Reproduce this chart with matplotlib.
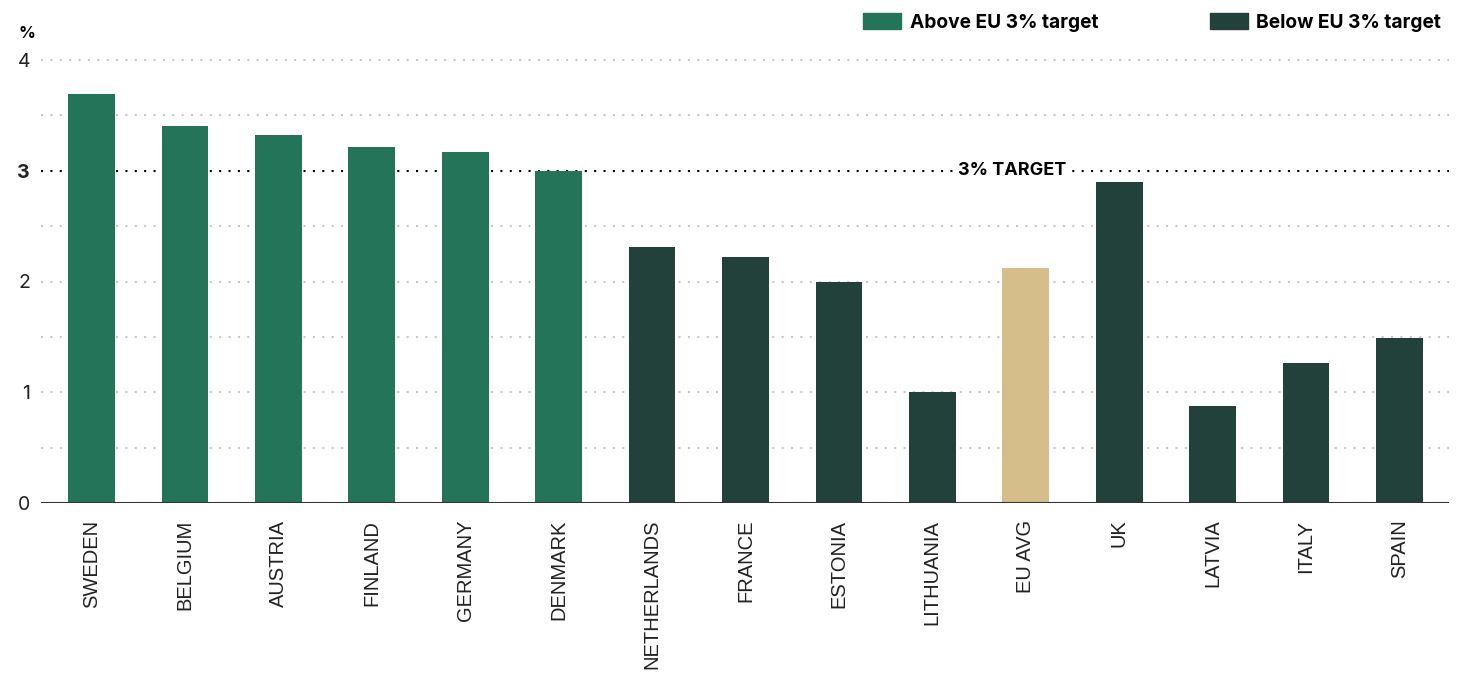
#!/usr/bin/env python3
"""R&D spending as share of GDP vs the EU 3% target."""
import matplotlib.pyplot as plt
import matplotlib.transforms as mtransforms
from matplotlib.patches import Patch

countries = ['SWEDEN', 'BELGIUM', 'AUSTRIA', 'FINLAND', 'GERMANY', 'DENMARK',
             'NETHERLANDS', 'FRANCE', 'ESTONIA', 'LITHUANIA', 'EU AVG', 'UK',
             'LATVIA', 'ITALY', 'SPAIN']
values = [3.69, 3.40, 3.32, 3.21, 3.17, 3.00, 2.31, 2.22, 2.00, 1.00, 2.12,
          2.90, 0.88, 1.26, 1.49]
groups = ['above'] * 6 + ['below'] * 4 + ['avg'] + ['below'] * 4
y_ticks = [0, 1, 2, 3, 4]
grid_levels = [0.5, 1, 1.5, 2, 2.5, 3.5, 4]
target = 3

colors = {'above': '#24745a', 'below': '#22413a', 'avg': '#d5be8a'}
main_font = ['Inter', 'DejaVu Sans']
label_font = ['Liberation Sans', 'DejaVu Sans']

fig = plt.figure(figsize=(14.7, 6.74), dpi=100)
ax = fig.add_axes([41 / 1470, 1 - 503 / 674, 1408 / 1470, 443 / 674])

for y in grid_levels:
    ax.axhline(y, color='#c8c8c8', lw=1.5, ls=(0, (1, 3.5)), zorder=0,
               clip_on=False)
ax.axhline(target, color='black', lw=1.5, ls=(0, (1, 3.5)), zorder=1)
ax.axhline(0, color='#333333', lw=1.5, zorder=3)

x = range(len(countries))
ax.bar(x, values, width=0.5, color=[colors[g] for g in groups], zorder=2)

trans = mtransforms.blended_transform_factory(ax.transAxes, ax.transData)
ax.text(0.69, target, '3% TARGET', transform=trans, ha='center', va='center',
        fontsize=13, fontweight='bold', family=main_font, zorder=4,
        bbox=dict(facecolor='white', edgecolor='none', pad=3))

ax.set_xlim(-0.54, len(countries) - 1 + 0.53)
ax.set_ylim(0, 4)
ax.set_xticks(list(x))
ax.set_xticklabels(countries, rotation=90, fontsize=14.5, family=label_font,
                   color='#222222')
ax.set_yticks(y_ticks)
ax.set_yticklabels([str(t) for t in y_ticks], fontsize=14, family=main_font,
                   color='#222222')
for lbl in ax.get_yticklabels():
    if lbl.get_text() == str(target):
        lbl.set_fontweight('bold')
ax.tick_params(axis='both', length=0)
ax.tick_params(axis='x', pad=12)
ax.tick_params(axis='y', pad=8)
for s in ax.spines.values():
    s.set_visible(False)

fig.text(18 / 1470, 1 - 34 / 674, '%', fontsize=12, fontweight='bold',
         family=main_font, va='center')

handles = [Patch(color=colors['above'], label='Above EU 3% target'),
           Patch(color=colors['below'], label='Below EU 3% target')]
leg = fig.legend(handles=handles, loc='upper right', ncol=2,
                 bbox_to_anchor=(1449 / 1470, 1 - 5 / 674), frameon=False,
                 handlelength=2.0, handleheight=0.95, handletextpad=0.45,
                 columnspacing=5.8, borderaxespad=0,
                 prop={'family': main_font, 'weight': 'bold', 'size': 13.8})

fig.savefig('out.png', dpi=100)
